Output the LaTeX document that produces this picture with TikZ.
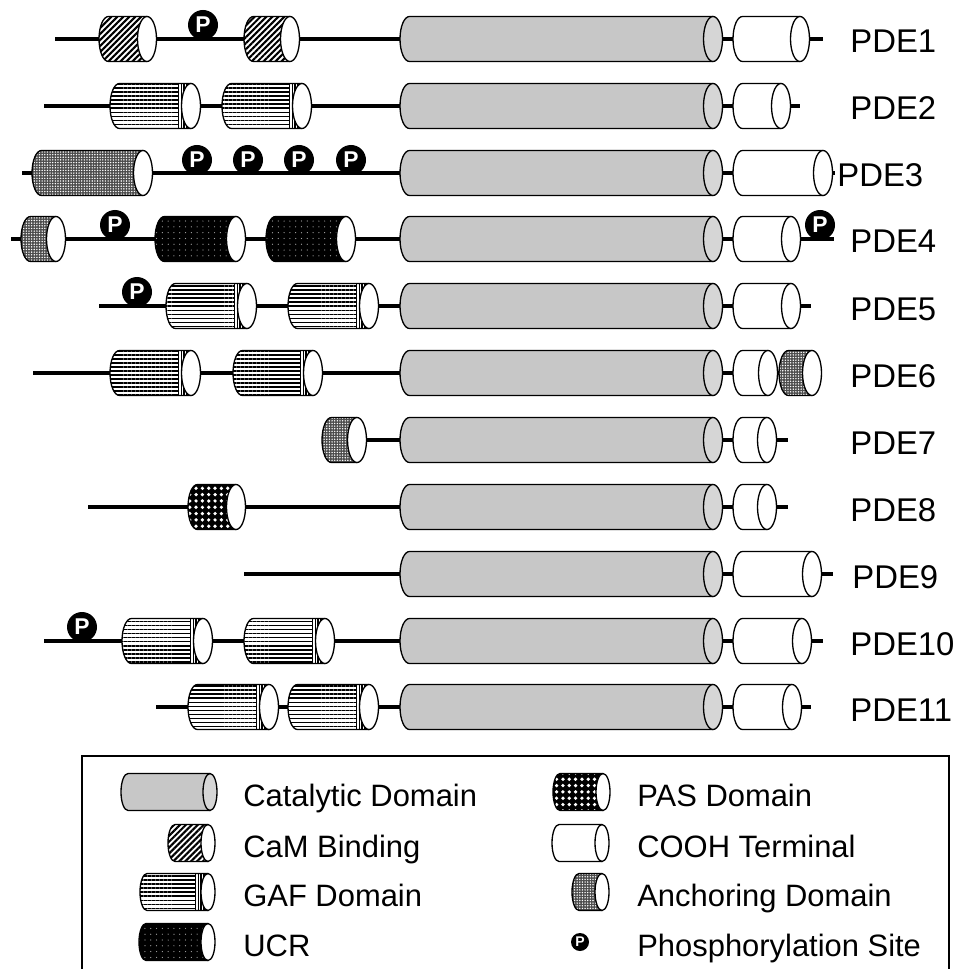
\documentclass[tikz,border=0pt]{standalone}
\usepackage{fontspec}
\setmainfont{Liberation Sans}
\usetikzlibrary{patterns,patterns.meta}
\def\rx{9.5}
\def\ry{22.5}
\newcommand{\dom}[5][white]{%
  \path[#2] (#5,#3-\ry) -- (#4+\rx,#3-\ry) arc[start angle=270,end angle=90,x radius=\rx,y radius=\ry] -- (#5,#3+\ry) -- cycle;
  \draw[outl] (#5,#3-\ry) -- (#4+\rx,#3-\ry) arc[start angle=270,end angle=90,x radius=\rx,y radius=\ry] -- (#5,#3+\ry);
  \draw[outl,fill=#1] (#5,#3) ellipse[x radius=\rx,y radius=\ry];}
\begin{document}
\begin{tikzpicture}[x=0.02cm,y=-0.02cm]
       \tikzstyle{outl}=[draw=black, line width=0.75pt]
       \tikzstyle{backbone}=[line width=2.3pt]
       \tikzstyle{cat}=[fill=black!22]
       \tikzstyle{cooh}=[fill=white]
       \tikzstyle{cam}=[preaction={fill=white}, pattern={Lines[angle=45,distance=2.4pt,line width=1.2pt]}]
       \tikzstyle{gaf}=[preaction={fill=white}, pattern={Lines[angle=0,distance=2.3pt,line width=0.9pt]},
         path picture={\fill[white] ([xshift=-7.6pt]path picture bounding box.north east) rectangle (path picture bounding box.south east);
           \foreach \k in {0,...,4}
             \draw[line width=0.75pt] ([xshift=-0.5pt-\k*1.7pt]path picture bounding box.north east) -- ([xshift=-0.5pt-\k*1.7pt]path picture bounding box.south east);}]
       \tikzstyle{ucr}=[preaction={fill=black}, pattern={Dots[radius=0.35pt,distance=3.3pt]}, pattern color=black!35]
       \tikzstyle{anc}=[preaction={fill=black!70}, pattern={Dots[radius=0.45pt,distance=1.5pt]}, pattern color=white]
       \tikzstyle{pas}=[preaction={fill=black}, pattern={Dots[radius=1.05pt,distance=3.6pt]}, pattern color=white]
       \tikzstyle{phos}=[text=white, inner sep=0pt, font=\bfseries\fontsize{13}{13}\selectfont]
       \tikzstyle{pdelabel}=[anchor=base west, inner sep=0pt, font=\fontsize{18.7}{20}\selectfont]
       \tikzstyle{keylabel}=[anchor=base west, inner sep=0pt, font=\fontsize{17.6}{19}\selectfont]
       \useasboundingbox (0,0) rectangle (963,969);
       \draw[backbone] (55,39) -- (823,39);
       \draw[backbone] (44,106) -- (800,106);
       \draw[backbone] (22,173) -- (835,173);
       \draw[backbone] (11,239) -- (834,239);
       \draw[backbone] (99,306) -- (811,306);
       \draw[backbone] (33,373) -- (779,373);
       \draw[backbone] (357,440) -- (788,440);
       \draw[backbone] (88,507) -- (788,507);
       \draw[backbone] (244,574) -- (833,574);
       \draw[backbone] (44,641) -- (823,641);
       \draw[backbone] (156,707) -- (811,707);
       \foreach \y/\n/\lx in {39/1/850,106/2/850,173/3/837,239/4/850,306/5/850,373/6/850,440/7/850,507/8/850,574/9/852,641/10/850,707/11/850}{
         \dom[black!16]{cat}{\y}{400}{713}
         \node[pdelabel] (pde\n) at (\lx,\y+14) {PDE\n};
       }
       \dom{cam}{39}{99}{147}
       \dom{cam}{39}{244}{290}
       \dom{cooh}{39}{733}{800}
       \dom{gaf}{106}{110}{191}
       \dom{gaf}{106}{222}{302}
       \dom{cooh}{106}{733}{781}
       \dom{anc}{173}{32}{143}
       \dom{cooh}{173}{733}{823}
       \dom{anc}{239}{21}{56}
       \dom{ucr}{239}{155}{236}
       \dom{ucr}{239}{266}{346}
       \dom{cooh}{239}{733}{791}
       \dom{gaf}{306}{166}{247}
       \dom{gaf}{306}{288}{369}
       \dom{cooh}{306}{733}{791}
       \dom{gaf}{373}{110}{191}
       \dom{gaf}{373}{233}{313}
       \dom{cooh}{373}{733}{768}
       \dom{anc}{373}{779}{812}
       \dom{anc}{440}{322}{357}
       \dom{cooh}{440}{733}{767}
       \dom{pas}{507}{188}{236}
       \dom{cooh}{507}{733}{767}
       \dom{cooh}{574}{733}{812}
       \dom{gaf}{641}{122}{203}
       \dom{gaf}{641}{244}{325}
       \dom{cooh}{641}{733}{802}
       \dom{gaf}{707}{188}{269}
       \dom{gaf}{707}{288}{369}
       \dom{cooh}{707}{733}{792}
       \foreach \px/\py/\i in {203/25/1,197/160/3a,248/160/3b,299/160/3c,351/160/3d,115/225/4a,820/225/4b,137/292/5,82/627/10}{
         \fill (\px,\py) circle[radius=15];
         \node[phos] (p\i) at (\px,\py) {P};
       }
       \draw[outl, line width=0.8pt] (82,985) -- (82,756) -- (949,756) -- (949,985);
       \begin{scope}
         \def\rx{7}\def\ry{18.5}
         \dom[black!16]{cat}{792}{121}{210}
         \dom{cam}{843}{168}{208}
         \dom{gaf}{892}{140}{208}
         \dom{ucr}{942}{139}{208}
         \dom{pas}{792}{553}{603}
         \dom{cooh}{843}{552}{602}
         \dom{anc}{892}{572}{602}
         \fill (580,942) circle[radius=9];
         \node[phos, font=\bfseries\fontsize{8}{8}\selectfont] (pkey) at (580,942) {P};
       \end{scope}
       \node[keylabel] (kcat) at (243,806) {Catalytic Domain};
       \node[keylabel] (kcam) at (243,857) {CaM Binding};
       \node[keylabel] (kgaf) at (243,906) {GAF Domain};
       \node[keylabel] (kucr) at (243,956) {UCR};
       \node[keylabel] (kpas) at (637,806) {PAS Domain};
       \node[keylabel] (kcooh) at (637,857) {COOH Terminal};
       \node[keylabel] (kanc) at (637,906) {Anchoring Domain};
       \node[keylabel] (kphos) at (637,956) {Phosphorylation Site};
      \end{tikzpicture}
\end{document}
